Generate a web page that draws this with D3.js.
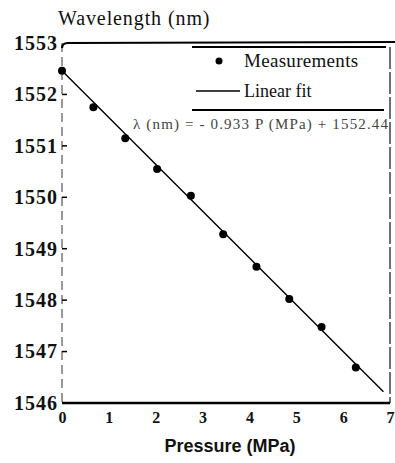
<!DOCTYPE html>
<html><head><meta charset="utf-8">
<script src="https://cdn.jsdelivr.net/npm/d3@7"></script>
<style>html,body{margin:0;padding:0;background:#fff;}svg{display:block;}</style>
</head><body>
<script>
// Data
const pressure = [0.0, 0.67, 1.35, 2.03, 2.75, 3.44, 4.15, 4.85, 5.54, 6.27];
const wavelength = [1552.46, 1551.75, 1551.15, 1550.55, 1550.03, 1549.28, 1548.65, 1548.02, 1547.48, 1546.69];
const fitPressure = [0.0, 6.86];
const fitWavelength = [1552.46, 1546.22];
const xTicks = [0, 1, 2, 3, 4, 5, 6, 7];
const xTickLabels = ["0", "1", "2", "3", "4", "5", "6", "7"];
const yTicks = [1546, 1547, 1548, 1549, 1550, 1551, 1552, 1553];
const legendLabels = ["Measurements", "Linear fit"];
const equation = "λ (nm) = - 0.933 P (MPa) + 1552.44";

const W = 395, H = 463;
const svg = d3.select("body").append("svg").attr("width", W).attr("height", H);
const x = d3.scaleLinear().domain([0, 7]).range([62, 390]);
const y = d3.scaleLinear().domain([1546, 1553]).range([403, 43]);
const serif = "'Liberation Serif','Times New Roman',serif";

// Left axis (faint, broken scan line)
svg.append("line").attr("x1", x(0)).attr("x2", x(0)).attr("y1", y(1553)).attr("y2", y(1546))
  .attr("stroke", "#333").attr("stroke-width", 1).attr("stroke-dasharray", "9,5");
// Right border
svg.append("line").attr("x1", x(7)).attr("x2", x(7)).attr("y1", y(1553) + 4).attr("y2", y(1546))
  .attr("stroke", "#111").attr("stroke-width", 1.2).attr("stroke-dasharray", "22,3");
// Top border (extends past plot)
svg.append("path").attr("d", `M${x(0)},${y(1553) + 5} Q${x(0)},${y(1553)} ${x(0) + 6},${y(1553)} L${W},${y(1553) - 1}`)
  .attr("fill", "none").attr("stroke", "#000").attr("stroke-width", 2.2);
// Bottom axis
svg.append("line").attr("x1", x(0)).attr("x2", x(7)).attr("y1", y(1546)).attr("y2", y(1546))
  .attr("stroke", "#000").attr("stroke-width", 2.6);

// Y ticks and labels
const yAxis = d3.axisLeft(y).tickValues(yTicks).tickSize(0).tickPadding(4).tickFormat(d3.format("d"));
const yg = svg.append("g").attr("transform", `translate(${x(0)},0)`).call(yAxis);
yg.select(".domain").remove();
yg.selectAll("text").attr("font-family", serif).attr("font-size", 20).attr("font-weight", "bold")
  .attr("letter-spacing", 1).attr("fill", "#111").attr("x", -4);
yTicks.filter(d => d > 1546 && d < 1553).forEach(d => {
  svg.append("line").attr("x1", x(0)).attr("x2", x(0) + 5).attr("y1", y(d)).attr("y2", y(d))
    .attr("stroke", "#000").attr("stroke-width", 1.5);
});

// X tick labels
const xAxis = d3.axisBottom(x).tickValues(xTicks).tickSize(0).tickPadding(9)
  .tickFormat((d, i) => xTickLabels[i]);
const xg = svg.append("g").attr("transform", `translate(0,${y(1546)})`).call(xAxis);
xg.select(".domain").remove();
xg.selectAll("text").attr("font-family", serif).attr("font-size", 16).attr("font-weight", "bold").attr("fill", "#111");

// Fit line
const line = d3.line().x(d => x(d[0])).y(d => y(d[1]));
svg.append("path").datum(d3.zip(fitPressure, fitWavelength)).attr("d", line)
  .attr("fill", "none").attr("stroke", "#000").attr("stroke-width", 1.4);

// Points
svg.append("g").selectAll("circle").data(d3.zip(pressure, wavelength)).join("circle")
  .attr("cx", d => x(d[0])).attr("cy", d => y(d[1])).attr("r", 4).attr("fill", "#000");

// Legend
svg.append("line").attr("x1", 192).attr("x2", 386).attr("y1", 47).attr("y2", 47).attr("stroke", "#000").attr("stroke-width", 1.8);
svg.append("line").attr("x1", 192).attr("x2", 384).attr("y1", 110).attr("y2", 110).attr("stroke", "#000").attr("stroke-width", 1.8);
svg.append("circle").attr("cx", 219).attr("cy", 61).attr("r", 3.5).attr("fill", "#000");
svg.append("text").attr("x", 244).attr("y", 67).text(legendLabels[0])
  .attr("font-family", serif).attr("font-size", 19).attr("letter-spacing", 0.3).attr("fill", "#111");
svg.append("line").attr("x1", 196).attr("x2", 240).attr("y1", 91).attr("y2", 91).attr("stroke", "#000").attr("stroke-width", 1.6);
svg.append("text").attr("x", 244).attr("y", 97).text(legendLabels[1])
  .attr("font-family", serif).attr("font-size", 18).attr("fill", "#111");
svg.append("text").attr("x", 133).attr("y", 129).text(equation)
  .attr("textLength", 255).attr("lengthAdjust", "spacing")
  .attr("font-family", serif).attr("font-size", 15).attr("fill", "#444");

// Titles
svg.append("text").attr("x", 58).attr("y", 25).text("Wavelength  (nm)")
  .attr("font-family", serif).attr("font-size", 20).attr("letter-spacing", 0.9).attr("fill", "#111");
svg.append("text").attr("x", 230).attr("y", 452).attr("text-anchor", "middle").text("Pressure  (MPa)")
  .attr("font-family", "'Liberation Sans',Arial,sans-serif").attr("font-size", 18).attr("font-weight", "bold").attr("fill", "#111");
</script>
</body></html>
